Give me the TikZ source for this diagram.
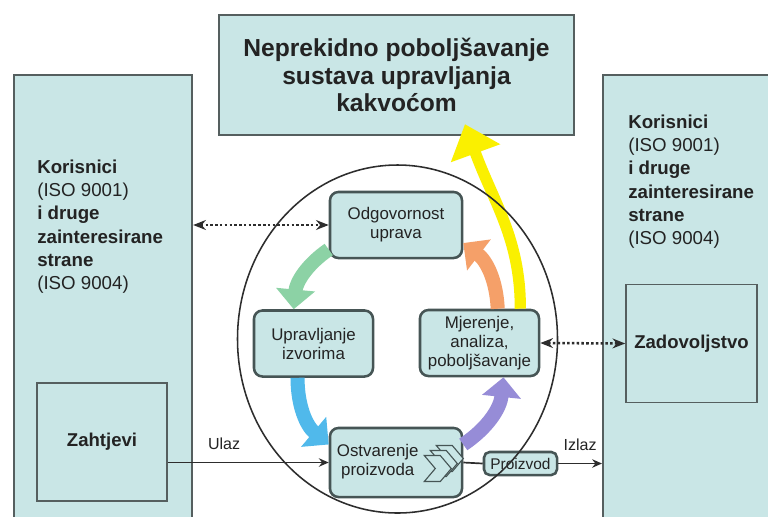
\documentclass[tikz,border=0pt]{standalone}
\usepackage{fontspec}
\setmainfont{Liberation Sans}
\usetikzlibrary{arrows.meta, positioning}
\definecolor{boja}{RGB}{201,230,230}
\definecolor{rub}{RGB}{85,95,95}
\definecolor{rub2}{RGB}{70,85,85}
\definecolor{tekst}{RGB}{35,35,35}
\definecolor{crta}{RGB}{45,45,45}
\definecolor{zelena}{RGB}{140,210,165}
\definecolor{plava}{RGB}{80,185,235}
\definecolor{ljub}{RGB}{150,140,215}
\definecolor{narancasta}{RGB}{245,160,105}
\definecolor{zuta}{RGB}{250,240,0}
\tikzset{>={Stealth[length=7pt,width=6pt]},
every node/.style={text=tekst},
okvir/.style={draw=rub, line width=1.5pt, fill=boja},
kutija/.style={draw=rub, line width=1.1pt, fill=boja, minimum width=3.25cm, minimum height=2.95cm, font=\fontsize{13.2}{16}\selectfont\bfseries},
opis/.style={inner sep=0pt, align=left, font=\fontsize{13.3}{16.4}\selectfont},
proces/.style={draw=rub2, line width=1.8pt, fill=boja, rounded corners=6pt, align=center, minimum width=3.3cm, minimum height=1.65cm, inner sep=2pt, font=\fontsize{12}{13.5}\selectfont},
tok/.style={line width=1.2pt, draw=crta},
veza/.style={{Stealth[length=9pt,width=7pt]}-{Stealth[length=9pt,width=7pt]}, line width=1.8pt, draw=crta, dash pattern=on 1.8pt off 1.6pt},
lbl/.style={font=\fontsize{11.4}{13}\selectfont},
blok/.style={line width=10pt, -{Triangle[width=27pt,length=14pt]}, bend right=25},
}
\newcommand{\korisnici}{\textbf{Korisnici}\\(ISO 9001)\\\textbf{i druge}\\\textbf{zainteresirane}\\\textbf{strane}\\(ISO 9004)}

\begin{document}
\begin{tikzpicture}[x=0.025cm, y=-0.025cm]
\clip (0,0) rectangle (768,516);
\fill[white] (0,0) rectangle (768,516);

\node[okvir, anchor=north west, minimum width=4.45cm, minimum height=11.5cm] (kor1) at (13,74) {};
\node[okvir, anchor=north west, minimum width=5cm, minimum height=11.5cm] (kor2) at (602,74) {};
\node[okvir, minimum width=8.875cm, minimum height=3cm, align=center, font=\fontsize{17.5}{19.6}\selectfont\bfseries] (nep) at (396.5,75) {Neprekidno poboljšavanje\\sustava upravljanja\\kakvoćom};

\node[opis, anchor=north west] (tekst1) at (37,160) {\korisnici};
\node[opis, anchor=north west] (tekst2) at (628,115) {\korisnici};

\node[kutija] (zaht) at (102,442) {Zahtjevi};
\node[kutija, minimum width=3.275cm] (zad) at (691.5,343.5) {Zadovoljstvo};

\node[proces] (odg) at (396,225) {Odgovornost\\uprava};
\node[proces, minimum width=2.975cm] (upr) at (313.5,343.5) {Upravljanje\\izvorima};
\node[proces, minimum width=2.975cm] (mjer) at (479.5,343) {Mjerenje,\\analiza,\\poboljšavanje};
\node[proces, minimum height=1.725cm] (ostv) at (396,462.5) {\begin{tabular}{@{}c@{}}Ostvarenje\\proizvoda\end{tabular}\hspace*{26pt}};
\node[proces, minimum width=1.825cm, minimum height=0.575cm, inner sep=1pt, rounded corners=4pt, font=\fontsize{11}{12}\selectfont] (proiz) at (520.5,463.5) {Proizvod};

\begin{scope}[shift={(ostv.east)}]
\foreach \d in {2,1,0}
  \draw[draw=rub2, line width=0.8pt, fill=boja] (-39+6*\d,19-5*\d) -- ++(16,0) -- ++(11,-13) -- ++(-11,-13) -- ++(-16,0) -- ++(11,13) -- cycle;
\end{scope}

\draw[tok, ->] (zaht.east |- ostv.west) -- node[above=5pt, pos=.35, lbl]{Ulaz} (ostv.west);
\draw[tok] (ostv.east) -- (proiz.west);
\draw[tok, ->] (proiz.east) -- node[above=5pt, lbl]{Izlaz} (proiz.east -| kor2.west);
\draw[veza] (kor1.east |- odg.west) -- (odg.west);
\draw[veza] (mjer.east) -- (zad.west);

\draw[blok, zelena] (odg.200) to (upr.120);
\draw[blok, plava] (upr.-115) to (ostv.165);
\draw[blok, ljub] (ostv.15) to (mjer.-55);
\draw[blok, narancasta] (mjer.62) to (odg.-15);
\draw[line width=8pt, zuta, -{Triangle[width=36pt,length=22pt]}, shorten >=-9pt] (mjer.40) to[out=90, in=-70] (nep.-40);

\draw[line width=1.1pt, draw=crta] (397.5,339) ellipse [x radius=160, y radius=174];
\end{tikzpicture}
\end{document}
